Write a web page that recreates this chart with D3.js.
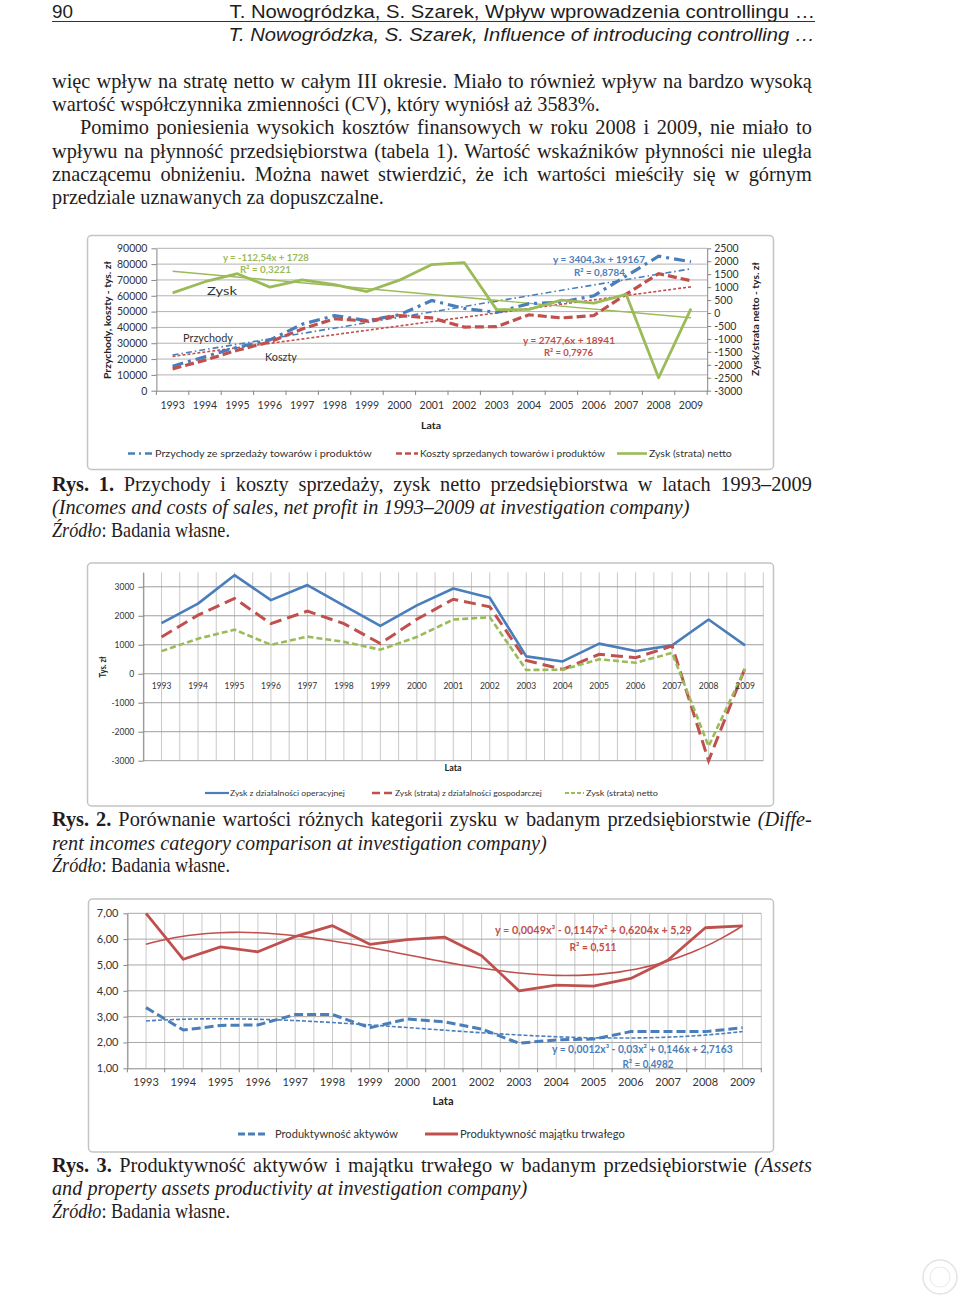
<!DOCTYPE html>
<html><head><meta charset="utf-8">
<script src="https://cdn.jsdelivr.net/npm/d3@7"></script>
<style>body{margin:0;background:#fff}svg{display:block}</style>
</head><body>
<svg id="page" width="960" height="1296"></svg>
<script>
// ---------- DATA ----------
const years = [1993,1994,1995,1996,1997,1998,1999,2000,2001,2002,2003,2004,2005,2006,2007,2008,2009];
// Fig. 1 (tys. zł)
const przychody = [15500,21500,27500,32000,42000,47500,44300,48000,57000,52000,49500,55000,56000,60000,72500,85000,81500];
const koszty    = [13800,19300,25600,30800,39000,45500,44000,47500,46000,40200,40500,48000,46000,47500,61000,74000,69500];
const zyskNetto = [780,1210,1520,1000,1280,1100,830,1270,1870,1950,130,140,500,380,720,-2500,170];
const trendPrzychody = [3404.3, 19167];   // slope, intercept (x = 1..17)
const trendKoszty    = [2747.6, 18941];
const trendZysk      = [-112.54, 1728];
const ticksL1 = [0,10000,20000,30000,40000,50000,60000,70000,80000,90000];
const ticksR1 = [-3000,-2500,-2000,-1500,-1000,-500,0,500,1000,1500,2000,2500];
// Fig. 2 (tys. zł)
const zyskOperacyjny = [1750,2420,3400,2540,3060,2350,1650,2360,2940,2620,600,425,1040,785,980,1870,980];
const zyskGospodarczy = [1270,2020,2600,1730,2160,1730,1040,1880,2570,2310,460,150,670,555,960,-3000,200];
const ticks2 = [-3000,-2000,-1000,0,1000,2000,3000];
// Fig. 3
const prodAktywow = [3.35,2.48,2.66,2.68,3.08,3.08,2.57,2.91,2.80,2.52,1.97,2.10,2.13,2.42,2.42,2.42,2.57];
const prodMajatku = [7.00,5.22,5.70,5.51,6.10,6.52,5.80,5.98,6.08,5.36,4.00,4.22,4.18,4.48,5.19,6.44,6.51];
const trendAktywow = [0.0012,-0.03,0.146,2.7163];   // x^3, x^2, x, c
const trendMajatku = [0.00485,-0.1147,0.6204,5.29]; // label shows 0,0049 (rounded)
const ticks3 = [1,2,3,4,5,6,7];

// ---------- HELPERS ----------
const SERIF = '"Liberation Serif","Times New Roman",serif';
const SANS = '"Liberation Sans Narrow","Liberation Sans",Arial,sans-serif';
const CH = 'Lato,"Open Sans",sans-serif';
const BLUE = '#4a7ebb', RED = '#c0504d', GREEN = '#9bbb59';
const svg = d3.select('#page');
const BODY = 20.5;

function txt(parent, x, y, parts, o = {}) {
  const t = parent.append('text')
    .attr('font-family', o.family || SERIF)
    .attr('font-size', o.size || BODY)
    .attr('fill', o.fill || '#1f1d1e')
    .attr('text-anchor', o.anchor || 'start');
  if (o.weight) t.attr('font-weight', o.weight);
  if (o.italic) t.attr('font-style', 'italic');
  (typeof parts === 'string' ? [[parts, '']] : parts).forEach(([s, st]) => {
    const sp = t.append('tspan').text(s);
    if (st && st.includes('b')) sp.attr('font-weight', 'bold');
    if (st && st.includes('i')) sp.attr('font-style', 'italic');
  });
  const nat = t.node().getComputedTextLength();
  let sx = o.sx || 1;
  if (o.justify) {
    const n = (t.text().match(/ /g) || []).length;
    t.attr('word-spacing', (o.width / sx - nat) / n);
  } else if (o.width) sx = o.width / nat;
  t.attr('transform', `translate(${x},${y})${o.rotate ? ` rotate(${o.rotate})` : ''} scale(${sx},1)`);
  return sx;
}
function styleAxis(g, size) {
  g.select('.domain').attr('stroke', '#868686');
  g.selectAll('.tick line').attr('stroke', '#868686');
  g.selectAll('.tick text').attr('font-family', CH).attr('font-size', size).attr('fill', '#333');
}
function legendItem(g, xa, xb, y, stroke, dash, w, label, tx, tw, size) {
  g.append('line').attr('x1', xa).attr('x2', xb).attr('y1', y).attr('y2', y)
    .attr('stroke', stroke).attr('stroke-width', w).attr('stroke-dasharray', dash);
  txt(g, tx, y + size * 0.36, label, {family: CH, size: size, width: tw, fill: '#333'});
}
function box(g, x, y, w, h) {
  g.append('rect').attr('x', x).attr('y', y).attr('width', w).attr('height', h).attr('rx', 4)
    .attr('fill', '#fff').attr('stroke', '#c4c4c4').attr('stroke-width', 1.5);
}
const poly = (c, x) => c[0]*x*x*x + c[1]*x*x + c[2]*x + c[3];
const plain = d => String(d);

// ---------- PAGE TEXT ----------
txt(svg, 52, 17.5, '90', {family: SANS, size: 18.5, width: 21});
txt(svg, 815, 17.5, 'T. Nowogródzka, S. Szarek, Wpływ wprowadzenia controllingu …', {family: SANS, size: 18.5, anchor: 'end', width: 586});
svg.append('line').attr('x1', 52).attr('x2', 815).attr('y1', 21.5).attr('y2', 21.5).attr('stroke', '#333').attr('stroke-width', 1.2);
txt(svg, 815, 41, 'T. Nowogródzka, S. Szarek, Influence of introducing controlling …', {family: SANS, size: 19, anchor: 'end', width: 587, italic: true});

const sxB = txt(svg, 52, 111, 'wartość współczynnika zmienności (CV), który wyniósł aż 3583%.', {width: 548});
txt(svg, 52, 88, 'więc wpływ na stratę netto w całym III okresie. Miało to również wpływ na bardzo wysoką', {justify: true, width: 760, sx: sxB});
txt(svg, 80, 134, 'Pomimo poniesienia wysokich kosztów finansowych w roku 2008 i 2009, nie miało to', {justify: true, width: 732, sx: sxB});
txt(svg, 52, 158, 'wpływu na płynność przedsiębiorstwa (tabela 1). Wartość wskaźników płynności nie uległa', {justify: true, width: 760, sx: sxB});
txt(svg, 52, 181, 'znaczącemu obniżeniu. Można nawet stwierdzić, że ich wartości mieściły się w górnym', {justify: true, width: 760, sx: sxB});
txt(svg, 52, 204, 'przedziale uznawanych za dopuszczalne.', {width: 332});

txt(svg, 52, 491, [['Rys. 1.', 'b'], [' Przychody i koszty sprzedaży, zysk netto przedsiębiorstwa w latach 1993–2009', '']], {justify: true, width: 760, sx: sxB});
txt(svg, 52, 514, '(Incomes and costs of sales, net profit in 1993–2009 at investigation company)', {italic: true, width: 638});
txt(svg, 52, 537, [['Źródło', 'i'], [': Badania własne.', '']], {width: 178});

txt(svg, 52, 826, [['Rys. 2.', 'b'], [' Porównanie wartości różnych kategorii zysku w badanym przedsiębiorstwie ', ''], ['(Diffe-', 'i']], {justify: true, width: 760, sx: sxB});
txt(svg, 52, 850, 'rent incomes category comparison at investigation company)', {italic: true, width: 495});
txt(svg, 52, 872, [['Źródło', 'i'], [': Badania własne.', '']], {width: 178});

txt(svg, 52, 1172, [['Rys. 3.', 'b'], [' Produktywność aktywów i majątku trwałego w badanym przedsiębiorstwie ', ''], ['(Assets', 'i']], {justify: true, width: 760, sx: sxB});
txt(svg, 52, 1195, 'and property assets productivity at investigation company)', {italic: true, width: 476});
txt(svg, 52, 1218, [['Źródło', 'i'], [': Badania własne.', '']], {width: 178});

// ---------- FIG 1 ----------
{
  const g = svg.append('g');
  box(g, 87.5, 235.5, 686, 234);
  const x = d3.scaleBand().domain(years).range([156.4, 707.2]);
  const cx = d => x(d) + x.bandwidth() / 2;
  const yL = d3.scaleLinear().domain([0, 90000]).range([390.7, 248.3]);
  const yR = d3.scaleLinear().domain([-3000, 2500]).range([390.7, 248.3]);
  g.append('g').selectAll('line').data(ticksL1.slice(1)).join('line')
    .attr('x1', 156.4).attr('x2', 707.2).attr('y1', d => yL(d)).attr('y2', d => yL(d))
    .attr('stroke', '#b3b3b3').attr('stroke-width', 1);
  const xi = d3.scaleLinear().domain([1, 17]).range([cx(years[0]), cx(years[16])]);
  const lin = (c, yS) => d3.line().x(t => xi(t)).y(t => yS(c[0] * t + c[1]))([1, 17]);
  g.append('path').attr('d', lin(trendPrzychody, yL)).attr('fill', 'none').attr('stroke', BLUE).attr('stroke-width', 1.6).attr('stroke-dasharray', '6,3,1.5,3');
  g.append('path').attr('d', lin(trendKoszty, yL)).attr('fill', 'none').attr('stroke', RED).attr('stroke-width', 1.6).attr('stroke-dasharray', '3,2');
  g.append('path').attr('d', lin(trendZysk, yR)).attr('fill', 'none').attr('stroke', GREEN).attr('stroke-width', 1.4);
  const lL = d3.line().x((d, i) => cx(years[i])).y(d => yL(d));
  const lR = d3.line().x((d, i) => cx(years[i])).y(d => yR(d));
  g.append('path').attr('d', lL(przychody)).attr('fill', 'none').attr('stroke', BLUE).attr('stroke-width', 3.2).attr('stroke-dasharray', '11,5,3,5');
  g.append('path').attr('d', lL(koszty)).attr('fill', 'none').attr('stroke', RED).attr('stroke-width', 3.2).attr('stroke-dasharray', '9,4');
  g.append('path').attr('d', lR(zyskNetto)).attr('fill', 'none').attr('stroke', GREEN).attr('stroke-width', 2.8).attr('stroke-linejoin', 'round');
  const aL = g.append('g').attr('transform', 'translate(156.4,0)')
    .call(d3.axisLeft(yL).tickValues(ticksL1).tickSize(5).tickSizeOuter(0).tickPadding(4).tickFormat(plain));
  styleAxis(aL, 10.5);
  const aR = g.append('g').attr('transform', 'translate(707.2,0)')
    .call(d3.axisRight(yR).tickValues(ticksR1).tickSize(4).tickSizeOuter(0).tickPadding(3).tickFormat(plain));
  styleAxis(aR, 10.5);
  const aB = g.append('g').attr('transform', 'translate(0,390.7)')
    .call(d3.axisBottom(x).tickSize(0).tickSizeOuter(0).tickPadding(11));
  styleAxis(aB, 10.5);
  g.append('g').selectAll('line').data(years.map(d => x(d)).concat([x.range()[1]])).join('line')
    .attr('x1', d => d).attr('x2', d => d).attr('y1', 390.7).attr('y2', 395).attr('stroke', '#868686');
  txt(g, 207, 295, 'Zysk', {family: CH, size: 12, width: 30, fill: '#333'});
  txt(g, 183, 342, 'Przychody', {family: CH, size: 12, width: 50, fill: '#333'});
  txt(g, 265, 361, 'Koszty', {family: CH, size: 12, width: 32, fill: '#333'});
  txt(g, 223, 260.5, 'y = -112,54x + 1728', {family: CH, size: 10, weight: 'bold', width: 86, fill: GREEN});
  txt(g, 240, 273, 'R² = 0,3221', {family: CH, size: 10, weight: 'bold', width: 51, fill: GREEN});
  txt(g, 553, 262.5, 'y = 3404,3x + 19167', {family: CH, size: 10, weight: 'bold', width: 92, fill: BLUE});
  txt(g, 574, 275.5, 'R² = 0,8784', {family: CH, size: 10, weight: 'bold', width: 51, fill: BLUE});
  txt(g, 523, 343.5, 'y = 2747,6x + 18941', {family: CH, size: 10, weight: 'bold', width: 92, fill: RED});
  txt(g, 544, 355.5, 'R² = 0,7976', {family: CH, size: 10, weight: 'bold', width: 49, fill: RED});
  txt(g, 431, 428.5, 'Lata', {family: CH, size: 10, weight: 'bold', anchor: 'middle', width: 20, fill: '#222'});
  txt(g, 110.5, 320, 'Przychody, koszty - tys. zł', {family: CH, size: 10, weight: 'bold', anchor: 'middle', width: 118, rotate: -90, fill: '#222'});
  txt(g, 758.5, 319, 'Zysk/strata netto - tys. zł', {family: CH, size: 10, weight: 'bold', anchor: 'middle', width: 114, rotate: -90, fill: '#222'});
  legendItem(g, 128, 153, 453.5, BLUE, '7,4,2,4', 2.6, 'Przychody ze sprzedaży towarów i produktów', 155, 217, 10);
  legendItem(g, 396, 418, 453.5, RED, '6,3', 2.6, 'Koszty sprzedanych towarów i produktów', 420, 185, 10);
  legendItem(g, 617, 647, 453.5, GREEN, null, 2.6, 'Zysk (strata) netto', 649, 83, 10);
}

// ---------- FIG 2 ----------
{
  const g = svg.append('g');
  box(g, 87.5, 563, 686, 243);
  const x = d3.scaleBand().domain(years).range([143.3, 763.3]);
  const cx = d => x(d) + x.bandwidth() / 2;
  const y = d3.scaleLinear().domain([-3000, 3500]).range([760.7, 572.3]);
  const vx = years.flatMap(d => [x(d), cx(d)]).concat([x.range()[1]]);
  g.append('g').selectAll('line').data(vx).join('line')
    .attr('x1', d => d).attr('x2', d => d).attr('y1', y(3500)).attr('y2', y(-3000))
    .attr('stroke', '#c9c9c9').attr('stroke-width', 1);
  g.append('g').selectAll('line').data(ticks2).join('line')
    .attr('x1', 143.3).attr('x2', 763.3).attr('y1', d => y(d)).attr('y2', d => y(d))
    .attr('stroke', '#9e9e9e').attr('stroke-width', 1);
  const l = d3.line().x((d, i) => cx(years[i])).y(d => y(d));
  g.append('path').attr('d', l(zyskOperacyjny)).attr('fill', 'none').attr('stroke', BLUE).attr('stroke-width', 2.6).attr('stroke-linejoin', 'round');
  g.append('path').attr('d', l(zyskGospodarczy)).attr('fill', 'none').attr('stroke', RED).attr('stroke-width', 3).attr('stroke-dasharray', '12,6');
  g.append('path').attr('d', l(zyskNetto)).attr('fill', 'none').attr('stroke', GREEN).attr('stroke-width', 2.6).attr('stroke-dasharray', '6,3');
  const aL = g.append('g').attr('transform', 'translate(143.3,0)')
    .call(d3.axisLeft(y).tickValues(ticks2).tickSize(5).tickSizeOuter(0).tickPadding(4).tickFormat(plain));
  styleAxis(aL, 8.5);
  const aB = g.append('g').attr('transform', `translate(0,${y(0)})`)
    .call(d3.axisBottom(x).tickSize(0).tickSizeOuter(0).tickPadding(9));
  styleAxis(aB, 8.5);
  aB.select('.domain').remove();
  txt(g, 106, 667, 'Tys. zł', {family: CH, size: 8.5, weight: 'bold', anchor: 'middle', width: 21, rotate: -90, fill: '#222'});
  txt(g, 453, 771, 'Lata', {family: CH, size: 9, weight: 'bold', anchor: 'middle', width: 17, fill: '#222'});
  legendItem(g, 205, 229, 793, BLUE, null, 2.2, 'Zysk z działalności operacyjnej', 230, 115, 8);
  legendItem(g, 372, 393, 793, RED, '8,4', 2.4, 'Zysk (strata) z działalności gospodarczej', 395, 147, 8);
  legendItem(g, 565, 584, 793, GREEN, '4,2', 2.2, 'Zysk (strata) netto', 586, 72, 8);
}

// ---------- FIG 3 ----------
{
  const g = svg.append('g');
  box(g, 88.5, 899, 685, 253);
  const x = d3.scaleBand().domain(years).range([127.4, 761.3]);
  const cx = d => x(d) + x.bandwidth() / 2;
  const y = d3.scaleLinear().domain([1, 7]).range([1068.3, 913.3]);
  const vx = years.flatMap(d => [x(d), cx(d)]).concat([x.range()[1]]);
  g.append('g').selectAll('line').data(vx).join('line')
    .attr('x1', d => d).attr('x2', d => d).attr('y1', y(7)).attr('y2', y(1))
    .attr('stroke', '#c9c9c9').attr('stroke-width', 1);
  g.append('g').selectAll('line').data(ticks3.slice(1)).join('line')
    .attr('x1', 127.4).attr('x2', 761.3).attr('y1', d => y(d)).attr('y2', d => y(d))
    .attr('stroke', '#a8a8a8').attr('stroke-width', 1);
  const xi = d3.scaleLinear().domain([1, 17]).range([cx(years[0]), cx(years[16])]);
  const tt = d3.range(1, 17.001, 0.25);
  const tl = c => d3.line().x(t => xi(t)).y(t => y(poly(c, t))).curve(d3.curveMonotoneX)(tt);
  const l = d3.line().x((d, i) => cx(years[i])).y(d => y(d));
  g.append('path').attr('d', tl(trendAktywow)).attr('fill', 'none').attr('stroke', BLUE).attr('stroke-width', 1.6).attr('stroke-dasharray', '4,2');
  g.append('path').attr('d', tl(trendMajatku)).attr('fill', 'none').attr('stroke', RED).attr('stroke-width', 1.6);
  g.append('path').attr('d', l(prodAktywow)).attr('fill', 'none').attr('stroke', BLUE).attr('stroke-width', 3).attr('stroke-dasharray', '9,4');
  g.append('path').attr('d', l(prodMajatku)).attr('fill', 'none').attr('stroke', RED).attr('stroke-width', 2.8).attr('stroke-linejoin', 'round');
  const fmt = d => d3.format('.2f')(d).replace('.', ',');
  const aL = g.append('g').attr('transform', 'translate(127.4,0)')
    .call(d3.axisLeft(y).tickValues(ticks3).tickSize(4).tickSizeOuter(0).tickPadding(5).tickFormat(fmt));
  styleAxis(aL, 11);
  const aB = g.append('g').attr('transform', `translate(0,${y(1)})`)
    .call(d3.axisBottom(x).tickSize(0).tickSizeOuter(0).tickPadding(10));
  styleAxis(aB, 11);
  g.append('g').selectAll('line').data(years.map(d => x(d)).concat([x.range()[1]])).join('line')
    .attr('x1', d => d).attr('x2', d => d).attr('y1', y(1)).attr('y2', y(1) + 4).attr('stroke', '#868686');
  txt(g, 495, 934, 'y = 0,0049x³ - 0,1147x² + 0,6204x + 5,29', {family: CH, size: 10.5, weight: 'bold', width: 197, fill: RED});
  txt(g, 593, 951, 'R² = 0,511', {family: CH, size: 10.5, weight: 'bold', anchor: 'middle', width: 47, fill: RED});
  txt(g, 552, 1053, 'y = 0,0012x³ - 0,03x² + 0,146x + 2,7163', {family: CH, size: 10.5, weight: 'bold', width: 181, fill: BLUE});
  txt(g, 648, 1068, 'R² = 0,4982', {family: CH, size: 10.5, weight: 'bold', anchor: 'middle', width: 51, fill: BLUE});
  txt(g, 443, 1105, 'Lata', {family: CH, size: 10.5, weight: 'bold', anchor: 'middle', width: 21, fill: '#222'});
  legendItem(g, 238, 268, 1134, BLUE, '7,3', 2.8, 'Produktywność aktywów', 275, 123, 11);
  legendItem(g, 425, 458, 1134, RED, null, 2.8, 'Produktywność majątku trwałego', 460, 165, 11);
}

svg.append('circle').attr('cx', 940).attr('cy', 1277).attr('r', 17).attr('fill', 'none').attr('stroke', '#e4e4e4').attr('stroke-width', 1.5);
svg.append('circle').attr('cx', 940).attr('cy', 1277).attr('r', 10).attr('fill', 'none').attr('stroke', '#ececec').attr('stroke-width', 1.2);
</script>
</body></html>
